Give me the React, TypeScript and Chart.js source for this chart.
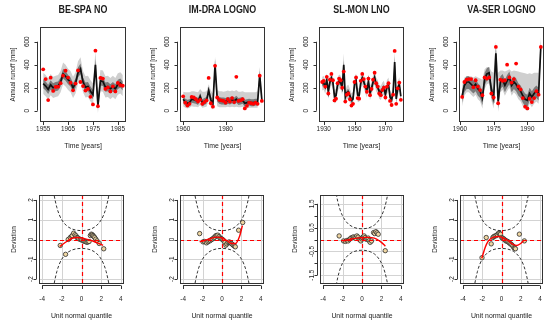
import React, { useEffect, useRef } from 'react';
import { Chart, registerables } from 'chart.js';
Chart.register(...registerables);

// ---------------- DATA ----------------
// Top row: annual runoff [mm], observed (red dots), simulated median (black), 50% band (dark), 95% band (light)
const titles = ['BE-SPA NO', 'IM-DRA LOGNO', 'SL-MON LNO', 'VA-SER LOGNO'];

const start1 = 1955;
const obs1 = [360, 275, 93, 287, 172, 207, 209, 240, 305, 348, 288, 244, 177, 236, 350, 250, 214, 175, 190, 121, 55, 522, 40, 285, 280, 190, 203, 168, 212, 168, 242, 222, 217];
const med1 = [235, 215, 185, 225, 200, 210, 215, 250, 320, 300, 270, 250, 200, 240, 330, 365, 250, 205, 210, 170, 140, 400, 45, 260, 255, 205, 210, 190, 210, 190, 230, 240, 215];
const hi50_1 = [275, 255, 225, 265, 240, 250, 255, 290, 365, 345, 310, 290, 240, 280, 375, 410, 290, 245, 250, 210, 180, 450, 85, 300, 295, 245, 250, 230, 250, 230, 270, 280, 255];
const lo50_1 = [195, 175, 145, 185, 160, 170, 175, 210, 280, 260, 230, 210, 160, 200, 290, 320, 210, 165, 170, 130, 100, 350, 10, 220, 215, 165, 170, 150, 170, 150, 190, 200, 175];
const hi95_1 = [330, 310, 280, 320, 295, 305, 310, 345, 420, 400, 365, 345, 295, 335, 430, 465, 345, 300, 305, 265, 240, 520, 150, 355, 350, 300, 305, 285, 305, 285, 325, 335, 310];
const lo95_1 = [145, 125, 95, 135, 110, 120, 125, 160, 230, 210, 180, 160, 110, 150, 235, 270, 160, 115, 120, 80, 50, 290, -20, 170, 165, 115, 120, 100, 120, 100, 140, 150, 125];

const start2 = 1960;
const obs2 = [125, 70, 45, 60, 120, 115, 100, 80, 95, 60, 75, 90, 285, 65, 35, 390, 115, 95, 90, 85, 70, 100, 80, 110, 75, 295, 85, 90, 100, 20, 43, 70, 65, 60, 70, 60, 305, 85];
const med2 = [100, 75, 65, 70, 100, 95, 90, 80, 125, 70, 80, 90, 175, 95, 60, 400, 110, 90, 85, 85, 80, 90, 85, 95, 85, 100, 80, 85, 90, 65, 70, 75, 70, 70, 75, 75, 310, 95];
const hi50_2 = [130, 105, 95, 100, 130, 125, 120, 110, 155, 100, 110, 120, 210, 125, 90, 450, 140, 120, 115, 115, 110, 120, 115, 125, 115, 130, 110, 115, 120, 95, 100, 105, 100, 100, 105, 105, 350, 125];
const lo50_2 = [70, 45, 35, 40, 70, 65, 60, 50, 95, 40, 50, 60, 140, 65, 30, 350, 80, 60, 55, 55, 50, 60, 55, 65, 55, 70, 50, 55, 60, 35, 40, 45, 40, 40, 45, 45, 270, 65];
const hi95_2 = [165, 160, 160, 160, 170, 170, 165, 160, 190, 165, 165, 170, 230, 175, 150, 470, 180, 170, 170, 165, 170, 175, 170, 175, 170, 180, 165, 165, 170, 160, 160, 160, 160, 160, 160, 170, 380, 180];
const lo95_2 = [40, 25, 20, 25, 40, 35, 35, 30, 50, 25, 30, 35, 90, 30, 10, 280, 40, 30, 30, 30, 30, 35, 30, 35, 30, 35, 30, 30, 35, 20, 20, 25, 25, 25, 25, 25, 220, 40];

const start3 = 1929;
const obs3 = [250, 260, 210, 295, 150, 270, 320, 265, 90, 105, 240, 280, 265, 200, 340, 80, 140, 150, 100, 45, 60, 250, 290, 110, 105, 260, 320, 275, 210, 165, 280, 135, 190, 270, 330, 240, 210, 150, 135, 180, 200, 115, 210, 240, 85, 50, 140, 520, 60, 195, 245, 95];
const med3 = [235, 242, 207, 266, 165, 249, 284, 245, 123, 133, 228, 256, 245, 200, 400, 116, 158, 165, 130, 91, 102, 235, 263, 137, 133, 242, 284, 252, 207, 175, 256, 154, 193, 249, 291, 228, 207, 165, 154, 186, 200, 140, 207, 228, 119, 95, 158, 424, 102, 196, 231, 126];
const hi50_3 = [260, 267, 232, 291, 190, 274, 309, 270, 148, 158, 253, 281, 270, 225, 440, 141, 183, 190, 155, 116, 127, 260, 288, 162, 158, 267, 309, 277, 232, 200, 281, 179, 218, 274, 316, 253, 232, 190, 179, 211, 225, 165, 232, 253, 144, 120, 183, 470, 127, 221, 256, 151];
const lo50_3 = [210, 217, 182, 241, 140, 224, 259, 220, 98, 108, 203, 231, 220, 175, 360, 91, 133, 140, 105, 66, 77, 210, 238, 112, 108, 217, 259, 227, 182, 150, 231, 129, 168, 224, 266, 203, 182, 140, 129, 161, 175, 115, 182, 203, 94, 70, 133, 380, 77, 171, 206, 101];
const hi95_3 = [295, 302, 267, 326, 225, 309, 344, 305, 183, 193, 288, 316, 305, 260, 500, 176, 218, 225, 190, 151, 162, 295, 323, 197, 193, 302, 344, 312, 267, 235, 316, 214, 253, 309, 351, 288, 267, 225, 214, 246, 260, 200, 267, 288, 179, 155, 218, 520, 162, 256, 291, 186];
const lo95_3 = [175, 182, 147, 206, 105, 189, 224, 185, 63, 73, 168, 196, 185, 140, 320, 56, 98, 105, 70, 31, 42, 175, 203, 77, 73, 182, 224, 192, 147, 115, 196, 94, 133, 189, 231, 168, 147, 105, 94, 126, 140, 80, 147, 168, 59, 35, 98, 340, 42, 136, 171, 66];

const start4 = 1961;
const obs4 = [120, 250, 270, 275, 275, 205, 265, 210, 180, 135, 290, 280, 290, 150, 115, 555, 65, 270, 260, 265, 400, 290, 245, 275, 410, 210, 185, 110, 35, 20, 105, 75, 110, 170, 140, 555];
const med4 = [130, 220, 250, 250, 230, 210, 230, 190, 170, 110, 280, 320, 330, 180, 110, 500, 80, 250, 270, 220, 260, 290, 220, 250, 230, 190, 170, 130, 100, 90, 150, 120, 150, 170, 150, 560];
const hi50_4 = [180, 270, 300, 300, 280, 260, 280, 240, 220, 160, 330, 370, 380, 230, 160, 560, 130, 300, 320, 270, 310, 340, 270, 300, 280, 240, 220, 180, 150, 140, 200, 170, 200, 220, 200, 610];
const lo50_4 = [70, 160, 190, 190, 170, 150, 170, 130, 110, 50, 220, 260, 270, 120, 50, 430, 20, 190, 210, 160, 200, 230, 160, 190, 170, 130, 110, 70, 40, 30, 90, 60, 90, 110, 90, 500];
const hi95_4 = [220, 290, 300, 300, 300, 290, 300, 290, 280, 270, 360, 380, 380, 340, 330, 600, 330, 350, 350, 340, 350, 360, 340, 350, 345, 340, 335, 330, 325, 320, 325, 320, 330, 330, 330, 640];
const lo95_4 = [40, 130, 160, 160, 140, 120, 140, 100, 80, 20, 190, 230, 240, 90, 20, 390, -10, 160, 180, 130, 170, 200, 130, 160, 140, 100, 80, 40, 10, 0, 60, 30, 60, 80, 60, 460];

const runoffTicks = [0, 200, 400, 600];
const yearTicks1 = [1955, 1965, 1975, 1985];
const yearTicks2 = [1960, 1980];
const yearTicks3 = [1930, 1950, 1970];
const yearTicks4 = [1960, 1975, 1990];

// Bottom row: worm plots (unit normal quantile vs deviation)
const wormX1 = [-2.16, -1.62, -1.35, -1.14, -1.0, -0.94, -0.8, -0.66, -0.55, -0.46, -0.36, -0.26, -0.1, 0.0, 0.15, 0.25, 0.36, 0.46, 0.56, 0.67, 0.77, 0.9, 1.0, 1.1, 1.17, 1.25, 1.34, 1.45, 1.58, 1.8, 2.26];
const wormY1 = [-0.3, -0.75, 0.0, 0.1, 0.16, 0.2, 0.32, 0.24, 0.18, 0.1, 0.08, 0.03, 0.0, -0.02, -0.05, -0.08, -0.1, -0.12, -0.14, -0.12, -0.1, 0.2, 0.27, 0.24, 0.2, 0.15, 0.1, 0.02, -0.07, -0.2, -0.47];
const fitX1 = [-2.2, -1.5, -1, -0.5, 0, 0.5, 1, 1.5, 2.2];
const fitY1 = [-0.35, -0.1, 0.05, 0.1, 0.08, 0.02, -0.05, -0.15, -0.3];

const wormX2 = [-2.3, -1.95, -1.8, -1.6, -1.45, -1.33, -1.2, -1.09, -0.95, -0.85, -0.75, -0.64, -0.55, -0.43, -0.3, -0.22, -0.1, 0.0, 0.1, 0.19, 0.3, 0.4, 0.5, 0.62, 0.74, 0.85, 0.95, 1.05, 1.16, 1.27, 1.37, 1.71, 2.13];
const wormY2 = [0.3, -0.12, -0.1, -0.17, -0.12, -0.08, -0.05, 0.0, 0.03, 0.08, 0.12, 0.19, 0.2, 0.22, 0.15, 0.08, 0.05, 0.02, -0.02, -0.07, -0.15, -0.29, -0.22, -0.15, -0.12, -0.16, -0.2, -0.24, -0.29, -0.33, -0.37, 0.47, 0.86];
const fitX2 = [-2.3, -1.8, -1.2, -0.6, 0, 0.5, 1, 1.4, 1.8, 2.1];
const fitY2 = [-0.12, -0.05, 0.05, 0.12, 0.08, -0.05, -0.2, -0.2, 0.15, 0.7];

const wormX3 = [-2.35, -1.9, -1.7, -1.55, -1.43, -1.3, -1.15, -1.0, -0.88, -0.75, -0.65, -0.53, -0.4, -0.29, -0.2, -0.12, 0.0, 0.05, 0.15, 0.22, 0.32, 0.43, 0.53, 0.64, 0.74, 0.84, 0.98, 1.19, 1.3, 1.43, 1.55, 1.67, 2.39];
const wormY3 = [0.15, -0.06, -0.08, -0.04, -0.06, 0.0, 0.06, 0.08, 0.11, 0.08, 0.05, 0.15, 0.1, 0.01, -0.02, -0.06, 0.02, 0.08, 0.12, 0.15, 0.08, 0.01, 0.03, 0.06, -0.05, -0.12, -0.06, 0.29, 0.25, 0.33, 0.28, 0.22, -0.47];
const fitX3 = [-2, -1.5, -1, -0.5, 0, 0.5, 1, 1.5, 2, 2.4];
const fitY3 = [-0.05, -0.02, 0.03, 0.06, 0.08, 0.09, 0.08, 0.02, -0.12, -0.28];

const wormX4 = [-2.03, -1.59, -1.07, -0.9, -0.79, -0.67, -0.55, -0.43, -0.31, -0.2, -0.1, 0.03, 0.13, 0.24, 0.35, 0.45, 0.55, 0.66, 0.76, 0.86, 0.96, 1.07, 1.18, 1.28, 1.37, 1.45, 1.86, 2.38];
const wormY4 = [-0.92, 0.1, -0.22, 0.1, 0.15, 0.18, 0.2, 0.25, 0.32, 0.3, 0.27, 0.1, 0.06, 0.03, -0.02, -0.07, -0.08, -0.1, -0.15, -0.19, -0.23, -0.27, -0.33, -0.41, -0.44, -0.47, 0.27, -0.07];
const fitX4 = [-2.05, -1.7, -1.4, -1.1, -0.8, -0.4, 0, 0.4, 0.8, 1.2, 1.6, 2.0, 2.3];
const fitY4 = [-0.95, -0.4, -0.1, 0.05, 0.12, 0.15, 0.12, 0.03, -0.1, -0.25, -0.3, -0.2, -0.05];

// confidence curves of the worm plots
const bandZ = [-3, -2.8, -2.5, -2.25, -2, -1.5, -1, -0.5, 0, 0.5, 1, 1.5, 2, 2.25, 2.5, 2.8, 3];
const bandUp = [2.97, 2.29, 1.61, 1.24, 0.99, 0.69, 0.54, 0.47, 0.45, 0.47, 0.54, 0.69, 0.99, 1.24, 1.61, 2.29, 2.97];
const bandLo = [-2.97, -2.29, -1.61, -1.24, -0.99, -0.69, -0.54, -0.47, -0.45, -0.47, -0.54, -0.69, -0.99, -1.24, -1.61, -2.29, -2.97];

const quantTicks = [-4, -2, 0, 2, 4];
const devTicks = [-2, -1, 0, 1, 2];
const devTicks3 = [-1.5, -1, -0.5, 0, 0.5, 1, 1.5];
const devLabels3 = ['-1.5', '', '-0.5', '', '0.5', '', '1.5'];

// ---------------- LAYOUT / STYLE ----------------
const W = 550, H = 324;
const FONT = '"Liberation Sans", Arial, Helvetica, sans-serif';
const TXT = '#1c1c1c';
const RED = '#ff0000';
const topCols = [[40, 126], [180, 265], [319, 404], [459, 544]];
const botCols = [[39, 124], [180, 264], [320, 404], [460, 543]];
const TOP_Y = [27, 122];
const BOT_Y = [195, 284];

type Spec = {
  title?: string; xTitle: string; yTitle: string;
  xTicks: number[]; xLabels: string[]; yTicks: number[]; yLabels: string[];
  grid: boolean; zeroLines: boolean;
  yAxGap: number; yLabGap: number; yTitGap: number;
  xAxGap: number; xLabY: number; xTitY: number; titY: number;
};

function drawText(ctx: CanvasRenderingContext2D, s: string, x: number, y: number, size: number, bold: boolean, rot: boolean, sx: number) {
  ctx.save();
  ctx.translate(x, y);
  if (rot) ctx.rotate(-Math.PI / 2);
  ctx.scale(sx, 1);
  ctx.font = `${bold ? 'bold ' : ''}${size}px ${FONT}`;
  ctx.textAlign = 'center';
  ctx.textBaseline = 'middle';
  ctx.fillStyle = TXT;
  ctx.fillText(s, 0, 0);
  ctx.restore();
}

function makePlugin(sp: Spec) {
  return {
    id: 'rAxes',
    beforeDatasetsDraw(chart: any) {
      const { ctx, chartArea: a, scales } = chart;
      if (sp.grid) {
        ctx.save();
        ctx.strokeStyle = '#d3d3d3';
        ctx.lineWidth = 1;
        ctx.beginPath();
        for (const t of sp.xTicks) {
          const px = Math.round(scales.x.getPixelForValue(t)) + 0.5;
          ctx.moveTo(px, a.top); ctx.lineTo(px, a.bottom);
        }
        for (const t of sp.yTicks) {
          const py = Math.round(scales.y.getPixelForValue(t)) + 0.5;
          ctx.moveTo(a.left, py); ctx.lineTo(a.right, py);
        }
        ctx.stroke();
        ctx.restore();
      }
    },
    afterDatasetsDraw(chart: any) {
      if (!sp.zeroLines) return;
      const { ctx, chartArea: a, scales } = chart;
      ctx.save();
      ctx.strokeStyle = RED;
      ctx.lineWidth = 1.2;
      ctx.setLineDash([4, 3]);
      const px = Math.round(scales.x.getPixelForValue(0)) + 0.5;
      const py = Math.round(scales.y.getPixelForValue(0)) + 0.5;
      ctx.beginPath();
      ctx.moveTo(px, a.top); ctx.lineTo(px, a.bottom);
      ctx.moveTo(a.left, py); ctx.lineTo(a.right, py);
      ctx.stroke();
      ctx.restore();
    },
    afterDraw(chart: any) {
      const { ctx, chartArea: a, scales } = chart;
      ctx.save();
      ctx.strokeStyle = '#333';
      ctx.lineWidth = 1;
      ctx.setLineDash([]);
      ctx.strokeRect(Math.round(a.left) + 0.5, Math.round(a.top) + 0.5, Math.round(a.right - a.left) - 1, Math.round(a.bottom - a.top) - 1);
      const ax = Math.round(a.left - sp.yAxGap) + 0.5;
      const yp = sp.yTicks.map((t) => scales.y.getPixelForValue(t));
      ctx.beginPath();
      ctx.moveTo(ax, yp[0]); ctx.lineTo(ax, yp[yp.length - 1]);
      yp.forEach((p) => { const q = Math.round(p) + 0.5; ctx.moveTo(ax, q); ctx.lineTo(ax - 3, q); });
      const ay = Math.round(a.bottom + sp.xAxGap) - 0.5;
      const xp = sp.xTicks.map((t) => scales.x.getPixelForValue(t));
      ctx.moveTo(xp[0], ay); ctx.lineTo(xp[xp.length - 1], ay);
      xp.forEach((p) => { const q = Math.round(p) + 0.5; ctx.moveTo(q, ay); ctx.lineTo(q, ay + 3.5); });
      ctx.stroke();
      ctx.restore();
      yp.forEach((p, i) => { if (sp.yLabels[i]) drawText(ctx, sp.yLabels[i], a.left - sp.yLabGap, p, 7.5, false, true, 0.85); });
      xp.forEach((p, i) => { if (sp.xLabels[i]) drawText(ctx, sp.xLabels[i], p, sp.xLabY, 7.5, false, false, 0.85); });
      const cx = (a.left + a.right) / 2, cy = (a.top + a.bottom) / 2;
      drawText(ctx, sp.xTitle, cx, sp.xTitY, 8, false, false, 0.86);
      drawText(ctx, sp.yTitle, a.left - sp.yTitGap, cy, 8, false, true, 0.8);
      if (sp.title) drawText(ctx, sp.title, cx, sp.titY, 10.5, true, false, 0.85);
    },
  };
}

const pts = (xs: number[], ys: number[]) => ys.map((y, i) => ({ x: xs[i], y }));
const hidden = 'rgba(0,0,0,0)';

function baseOptions(pad: any, xr: number[], yr: number[]) {
  return {
    responsive: false,
    animation: false as const,
    devicePixelRatio: 1,
    events: [] as any[],
    layout: { padding: pad },
    plugins: { legend: { display: false }, tooltip: { enabled: false }, title: { display: false } },
    scales: {
      x: { type: 'linear' as const, display: false, min: xr[0], max: xr[1] },
      y: { type: 'linear' as const, display: false, min: yr[0], max: yr[1] },
    },
  };
}

function topChart(i: number, start: number, obs: number[], med: number[], lo50: number[], hi50: number[], lo95: number[], hi95: number[], ticks: number[]) {
  const years = obs.map((_, k) => start + k);
  const x0 = years[0], x1 = years[years.length - 1], pad = (x1 - x0) * 0.04;
  const [l, r] = topCols[i];
  const padding = { left: l, right: W - r, top: TOP_Y[0], bottom: H - TOP_Y[1] };
  const sp: Spec = {
    title: titles[i], xTitle: 'Time [years]', yTitle: 'Annual runoff [mm]',
    xTicks: ticks, xLabels: ticks.map(String), yTicks: runoffTicks, yLabels: runoffTicks.map(String),
    grid: false, zeroLines: false, yAxGap: 3.5, yLabGap: 13.5, yTitGap: 27, xAxGap: 0, xLabY: 128.5, xTitY: 146, titY: 10,
  };
  return {
    type: 'line' as const,
    data: {
      datasets: [
        { data: pts(years, obs), showLine: false, pointRadius: 1.9, pointBackgroundColor: RED, pointBorderWidth: 0, borderColor: RED },
        { data: pts(years, med), borderColor: '#111', borderWidth: 1.7, pointRadius: 0 },
        { data: pts(years, lo50), borderColor: hidden, borderWidth: 0.1, pointRadius: 0, fill: false },
        { data: pts(years, hi50), borderColor: hidden, borderWidth: 0.1, pointRadius: 0, fill: '-1', backgroundColor: '#7a7a7a' },
        { data: pts(years, lo95), borderColor: hidden, borderWidth: 0.1, pointRadius: 0, fill: false },
        { data: pts(years, hi95), borderColor: hidden, borderWidth: 0.1, pointRadius: 0, fill: '-1', backgroundColor: '#cfcfcf' },
      ],
    },
    options: baseOptions(padding, [x0 - pad, x1 + pad], [-98, 728]),
    plugins: [makePlugin(sp)],
  };
}

function botChart(i: number, wx: number[], wy: number[], fx: number[], fy: number[], yTicks: number[], yLabels: string[], yr: number[]) {
  const [l, r] = botCols[i];
  const padding = { left: l, right: W - r, top: BOT_Y[0], bottom: H - BOT_Y[1] };
  const sp: Spec = {
    xTitle: 'Unit normal quantile', yTitle: 'Deviation',
    xTicks: quantTicks, xLabels: quantTicks.map(String), yTicks, yLabels,
    grid: true, zeroLines: true, yAxGap: 3, yLabGap: 8.5, yTitGap: 25, xAxGap: 2, xLabY: 299, xTitY: 316, titY: 0,
  };
  return {
    type: 'line' as const,
    data: {
      datasets: [
        { data: pts(fx, fy), borderColor: RED, borderWidth: 1.4, pointRadius: 0, cubicInterpolationMode: 'monotone' as const },
        { data: pts(wx, wy), showLine: false, pointRadius: 2.2, pointBackgroundColor: '#efd6a2', pointBorderColor: '#2a2a2a', pointBorderWidth: 0.8, borderColor: '#2a2a2a' },
        { data: pts(bandZ, bandUp), borderColor: '#333', borderWidth: 1, borderDash: [3, 2], pointRadius: 0, cubicInterpolationMode: 'monotone' as const },
        { data: pts(bandZ, bandLo), borderColor: '#333', borderWidth: 1, borderDash: [3, 2], pointRadius: 0, cubicInterpolationMode: 'monotone' as const },
      ],
    },
    options: baseOptions(padding, [-4.32, 4.32], yr),
    plugins: [makePlugin(sp)],
  };
}

export default function App() {
  const refs = useRef<(HTMLCanvasElement | null)[]>([]);
  useEffect(() => {
    const cfgs: any[] = [
      topChart(0, start1, obs1, med1, lo50_1, hi50_1, lo95_1, hi95_1, yearTicks1),
      topChart(1, start2, obs2, med2, lo50_2, hi50_2, lo95_2, hi95_2, yearTicks2),
      topChart(2, start3, obs3, med3, lo50_3, hi50_3, lo95_3, hi95_3, yearTicks3),
      topChart(3, start4, obs4, med4, lo50_4, hi50_4, lo95_4, hi95_4, yearTicks4),
      botChart(0, wormX1, wormY1, fitX1, fitY1, devTicks, devTicks.map(String), [-2.25, 2.25]),
      botChart(1, wormX2, wormY2, fitX2, fitY2, devTicks, devTicks.map(String), [-2.25, 2.25]),
      botChart(2, wormX3, wormY3, fitX3, fitY3, devTicks3, devLabels3, [-1.87, 1.87]),
      botChart(3, wormX4, wormY4, fitX4, fitY4, devTicks, devTicks.map(String), [-2.25, 2.25]),
    ];
    const charts = cfgs.map((c, k) => new Chart(refs.current[k] as HTMLCanvasElement, c));
    return () => charts.forEach((c) => c.destroy());
  }, []);
  return (
    <div style={{ position: 'absolute', left: 0, top: 0, width: W, height: H, background: '#fff' }}>
      {Array.from({ length: 8 }, (_, k) => (
        <canvas key={k} ref={(el) => { refs.current[k] = el; }} width={W} height={H}
          style={{ position: 'absolute', left: 0, top: 0, width: W, height: H }} />
      ))}
    </div>
  );
}
